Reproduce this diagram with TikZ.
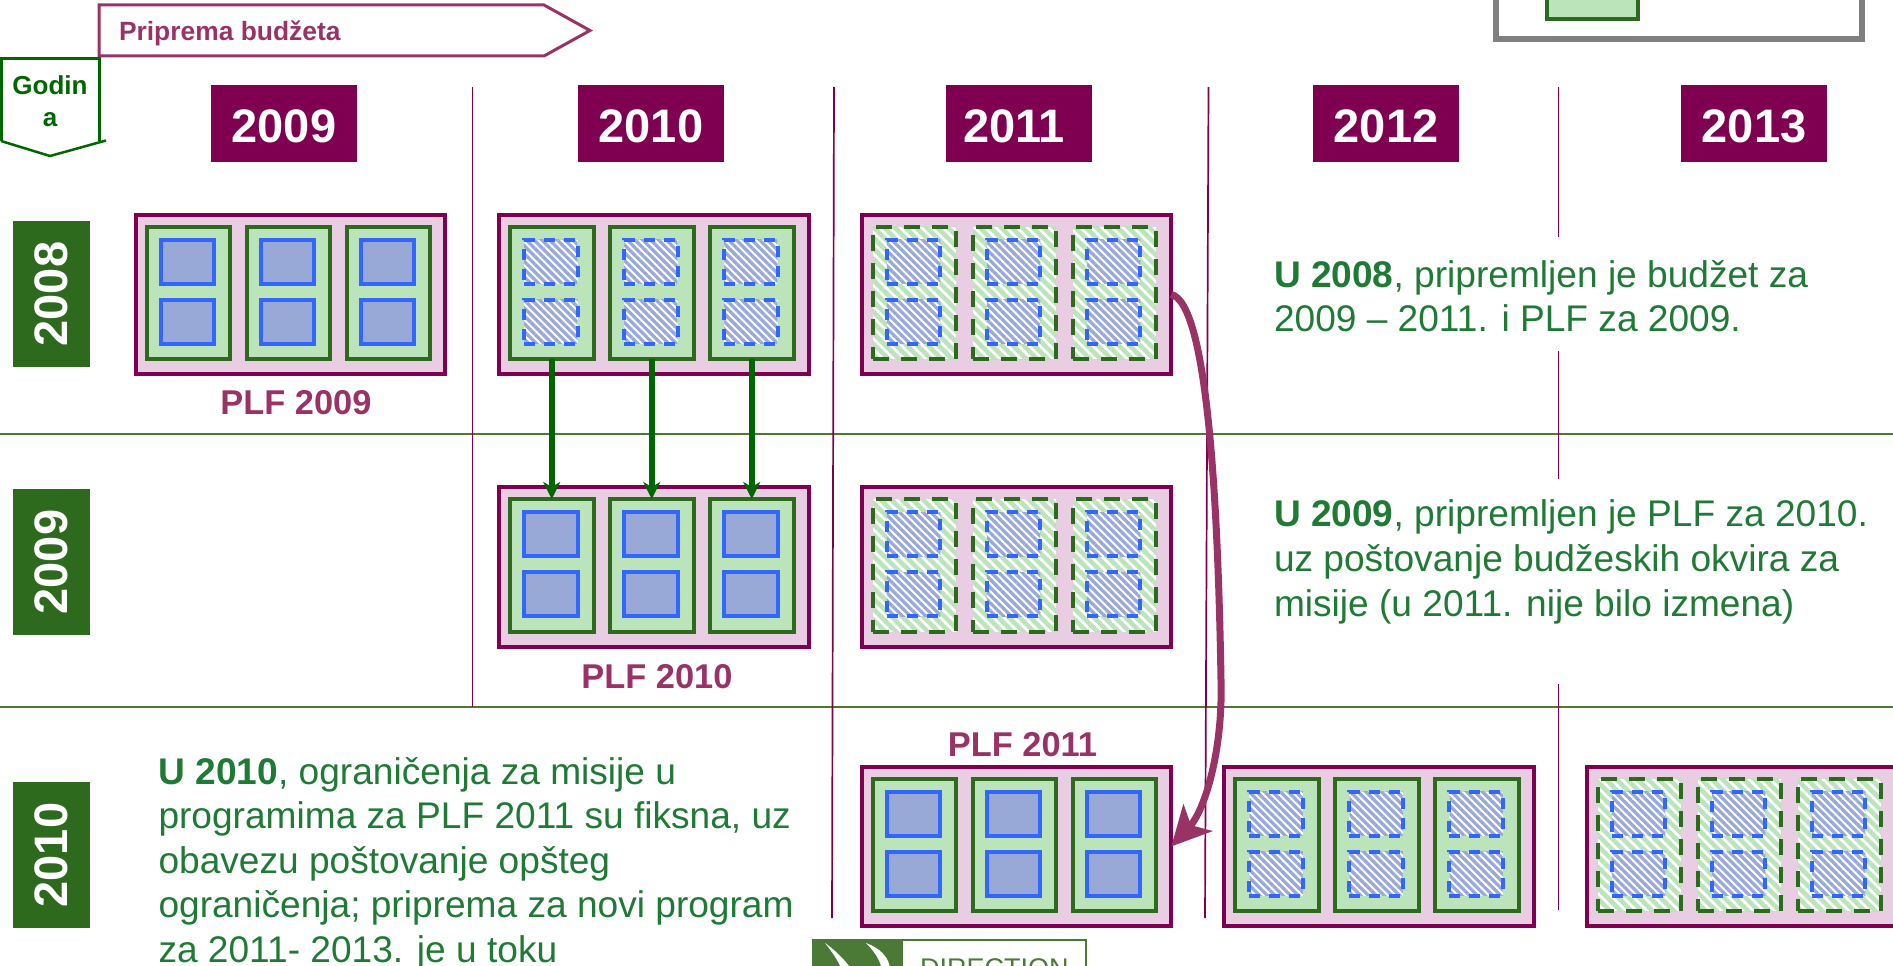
\documentclass[tikz,border=0pt]{standalone}
\usepackage{fontspec}
\setmainfont{Liberation Sans}
\usetikzlibrary{positioning,arrows.meta,patterns.meta}
\definecolor{plum}{HTML}{7F0050}
\definecolor{rose}{HTML}{993366}
\definecolor{panelpink}{HTML}{E9CDE2}
\definecolor{leaf}{HTML}{2D6A1E}
\definecolor{leaflight}{HTML}{BBE4BB}
\definecolor{deepgreen}{HTML}{006600}
\definecolor{textgreen}{HTML}{1F7A35}
\definecolor{ruleblue}{HTML}{3366FF}
\definecolor{paleblue}{HTML}{98A9D8}
\definecolor{logogreen}{HTML}{4A7A35}
\tikzset{
    every node/.style={inner sep=0pt,outer sep=0pt},
    panel/.style={draw=plum,fill=panelpink,line width=4pt,minimum width=309.5pt,minimum height=159.5pt,anchor=north west},
    packfull/.style={draw=leaf,fill=leaflight,line width=4pt,minimum width=83.5pt,minimum height=132.5pt},
    packhatch/.style={draw=leaf,line width=4pt,minimum width=83.5pt,minimum height=132.5pt,dash pattern=on 16pt off 12pt,
        preaction={fill=white},pattern={Lines[angle=-45,distance=7.5pt,line width=4.5pt]},pattern color=leaflight},
    subfull/.style={draw=ruleblue,fill=paleblue,line width=4pt,minimum width=53.5pt,minimum height=44pt},
    subhatch/.style={draw=ruleblue,line width=4pt,minimum width=53.5pt,minimum height=44pt,dash pattern=on 11pt off 9pt,
        preaction={fill=white},pattern={Lines[angle=-45,distance=5.5pt,line width=3.2pt]},pattern color=paleblue},
    yearbox/.style={fill=plum,text=white,minimum width=146pt,minimum height=77pt,text height=38pt,font=\fontsize{47}{50}\selectfont\bfseries},
    sidebox/.style={yearbox,fill=leaf,rotate=90,text height=33pt},
    plflabel/.style={text=rose,font=\fontsize{34.4}{40}\selectfont\bfseries},
    bodytext/.style={text=textgreen,align=left,anchor=north west,font=\fontsize{37.1}{44.6}\selectfont},
    vline/.style={draw=plum,line width=1.7pt},
    hline/.style={draw=logogreen,line width=2.5pt},
    greenarrow/.style={draw=deepgreen,line width=6pt,-{Stealth[length=17pt,width=17pt,inset=5pt]}},
    rosearrow/.style={draw=rose,line width=7pt,-{Stealth[length=39pt,width=39pt,inset=10pt]}}
}
\newcommand\plfpack[4]{\node(#1)[#3,#2]{};\node(#1a)[#4,below right=13pt and 14pt of #1.north west]{};\node(#1b)[#4,below=16pt of #1a]{};}
\newcommand\plfpanel[5]{\node(#1)[panel] at (#2,#3){};
    \plfpack{#1x}{below right=12pt and 11pt of #1.north west}{#4}{#5}
    \plfpack{#1y}{right=16.5pt of #1x}{#4}{#5}
    \plfpack{#1z}{right=16.5pt of #1y}{#4}{#5}}

\begin{document}
\begin{tikzpicture}[x=1pt,y=-1pt]
    \useasboundingbox (0,0) rectangle (1893,966);
    \draw[hline] (0,434) -- (1893,434);
    \draw[hline] (0,707) -- (1893,707);
    \draw[vline] (472.5,87) -- (472.5,707);
    \draw[vline] (834,87) -- (832,918);
    \draw[vline] (1208.5,87) -- (1205,918);
    \draw[vline] (1558.5,87) -- (1558.5,237);
    \draw[vline] (1558.5,351) -- (1558.5,479);
    \draw[vline] (1558.5,684) -- (1558.5,910);

    \draw[draw=gray,line width=6.5pt] (1496,-20) rectangle (1862,39);
    \draw[packfull] (1546.5,-20) rectangle (1637.5,19.5);

    \draw[draw=rose,line width=3pt] (99,5) -- (544,5) -- (590,30.5) -- (544,56) -- (99,56) -- cycle;
    \node(budget)[text=rose,anchor=base west,font=\fontsize{26.4}{30}\selectfont\bfseries] at (119,41){Priprema budžeta};
    \draw[draw=deepgreen,line width=2.5pt] (1.5,141) -- (1.5,58.5) -- (99.5,58.5) -- (99.5,141);
    \draw[draw=deepgreen,line width=2.5pt] (1,141) -- (50,156) -- (106,140.5);
    \node(godina)[text=deepgreen,align=center,font=\fontsize{26}{32}\selectfont\bfseries] at (50,101){Godin\\a};

    \node(y09)[yearbox] at (284,123.5){2009};
    \node(y10)[yearbox] at (651,123.5){2010};
    \node(y11)[yearbox] at (1019,123.5){2011\kern10pt};
    \node(y12)[yearbox] at (1386,123.5){2012};
    \node(y13)[yearbox] at (1754,123.5){2013};
    \node(s08)[sidebox] at (51.5,294){2008};
    \node(s09)[sidebox] at (51.5,562){2009};
    \node(s10)[sidebox] at (51.5,855){2010};

    \plfpanel{ra}{135.75}{214.75}{packfull}{subfull}
    \plfpanel{rb}{499}{214.75}{packfull}{subhatch}
    \plfpanel{rc}{861.75}{214.75}{packhatch}{subhatch}
    \plfpanel{sb}{499}{487}{packfull}{subfull}
    \plfpanel{sc}{861.75}{487}{packhatch}{subhatch}
    \plfpanel{tc}{861.75}{766.75}{packfull}{subfull}
    \plfpanel{td}{1224.3}{766.75}{packfull}{subhatch}
    \plfpanel{te}{1586.75}{766.75}{packhatch}{subhatch}

    \node(plfa)[plflabel] at (296,403){PLF 2009};
    \node(plfb)[plflabel] at (657,677){PLF 2010};
    \node(plfc)[plflabel] at (1022.5,745){PLF 2011};

    \draw[greenarrow] (rbx.south) -- (sbx.north);
    \draw[greenarrow] (rby.south) -- (sby.north);
    \draw[greenarrow] (rbz.south) -- (sbz.north);
    \draw[rosearrow] (rc.east) .. controls +(36,8) and (1218,500) .. (1221,680) .. controls (1223,750) and (1205,810) .. (tc.east);

    \node(notea)[bodytext] at (1274,260){\textbf{U 2008}, pripremljen je budžet za\\2009 – 2011. i PLF za 2009.};
    \node(noteb)[bodytext] at (1274,500){\textbf{U 2009}, pripremljen je PLF za 2010.\\uz poštovanje budžeskih okvira za\\misije (u 2011. nije bilo izmena)};
    \node(notec)[bodytext] at (158.5,757){\textbf{U 2010}, ograničenja za misije u\\programima za PLF 2011 su fiksna, uz\\obavezu poštovanje opšteg\\ograničenja; priprema za novi program\\za 2011- 2013. je u toku};

    \draw[draw=logogreen,line width=2pt] (813,940) rectangle (1086,990);
    \fill[logogreen] (812,939) rectangle (903,990);
    \fill[white] (825,943) .. controls (835,950) and (845,960) .. (852,970) -- (842,970) .. controls (838,960) and (832,952) .. (825,943) -- cycle;
    \fill[white] (866,943) .. controls (880,948) and (890,958) .. (890,970) -- (882,970) .. controls (880,960) and (875,952) .. (866,943) -- cycle;
    \node(logo)[text=logogreen,anchor=base west,font=\fontsize{27}{30}\selectfont] at (920,977){DIRECTION};
\end{tikzpicture}
\end{document}
